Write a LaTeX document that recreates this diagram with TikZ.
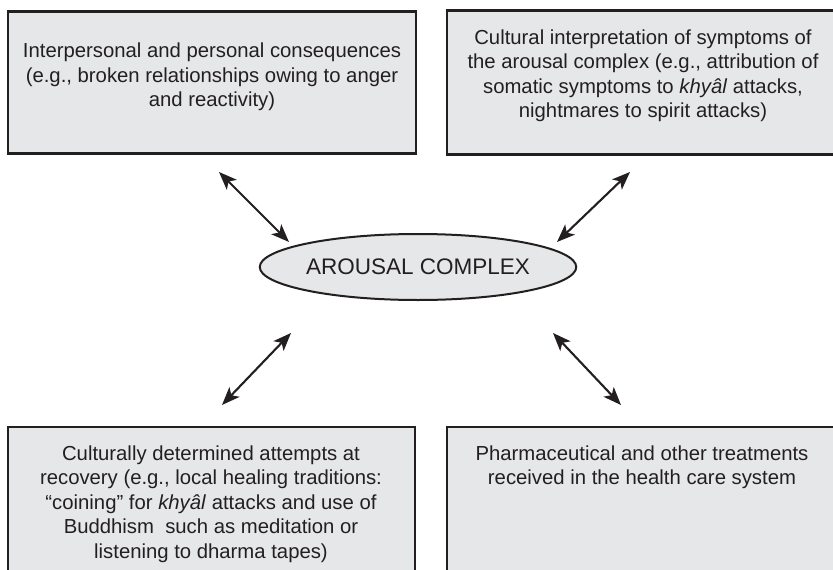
\documentclass[tikz,border=0pt]{standalone}
\usepackage{fontspec}
\setmainfont{Liberation Sans}
\usetikzlibrary{arrows.meta,shapes.geometric}
\definecolor{boxfill}{HTML}{E6E7E8}
\definecolor{ink}{HTML}{231F20}
\begin{document}
\begin{tikzpicture}[x=1pt,y=-1pt,
  panel/.style={draw=ink, line width=2.4pt, fill=boxfill, inner sep=0pt, outer sep=0pt},
  paneltext/.style={align=center, font=\fontsize{20.3}{24.5}\selectfont, text=ink, inner sep=0pt},
  hub/.style={ellipse, draw=ink, line width=2pt, fill=boxfill, inner sep=0pt,
    minimum width=312pt, minimum height=66pt, text=ink, font=\fontsize{22.5}{27}\selectfont},
  link/.style={draw=ink, line width=2.1pt,
    {Stealth[length=18pt,width=14pt,inset=4.5pt]}-{Stealth[length=18pt,width=14pt,inset=4.5pt]}}]
\path[use as bounding box, clip] (0,0) rectangle (833,570);

% four surrounding panels
\node[panel, minimum width=408pt, minimum height=142pt] (tl) at (212,82.5) {};
\node[panel, minimum width=400pt, minimum height=144pt] (tr) at (647,82.5) {};
\node[panel, minimum width=407pt, minimum height=160pt] (bl) at (211.5,507) {};
\node[panel, minimum width=400pt, minimum height=160pt] (br) at (647,507) {};

\node[paneltext] (tltext) at (212,77) {Interpersonal and personal consequences\\(e.g., broken relationships owing to anger\\and reactivity)};
\node[paneltext] (trtext) at (643,76) {Cultural interpretation of symptoms of\\the arousal complex (e.g., attribution of\\somatic symptoms to \textit{khyâl} attacks,\\nightmares to spirit attacks)};
\node[paneltext] (bltext) at (211,504) {Culturally determined attempts at\\recovery (e.g., local healing traditions:\\“coining” for \textit{khyâl} attacks and use of\\Buddhism\ \ such as meditation or\\listening to dharma tapes)};
\node[paneltext] (brtext) at (642,467) {Pharmaceutical and other treatments\\received in the health care system};

% central node
\node[hub] (core) at (418,267) {AROUSAL COMPLEX};

% arrow end points
\coordinate (tlA) at (219,172);
\coordinate (tlB) at (289,242);
\coordinate (trA) at (630,172);
\coordinate (trB) at (557,242);
\coordinate (blA) at (291,333);
\coordinate (blB) at (222,405);
\coordinate (brA) at (553,333);
\coordinate (brB) at (621,405);

\draw[link] (tlA) -- (tlB);
\draw[link] (trA) -- (trB);
\draw[link] (blA) -- (blB);
\draw[link] (brA) -- (brB);
\end{tikzpicture}
\end{document}
